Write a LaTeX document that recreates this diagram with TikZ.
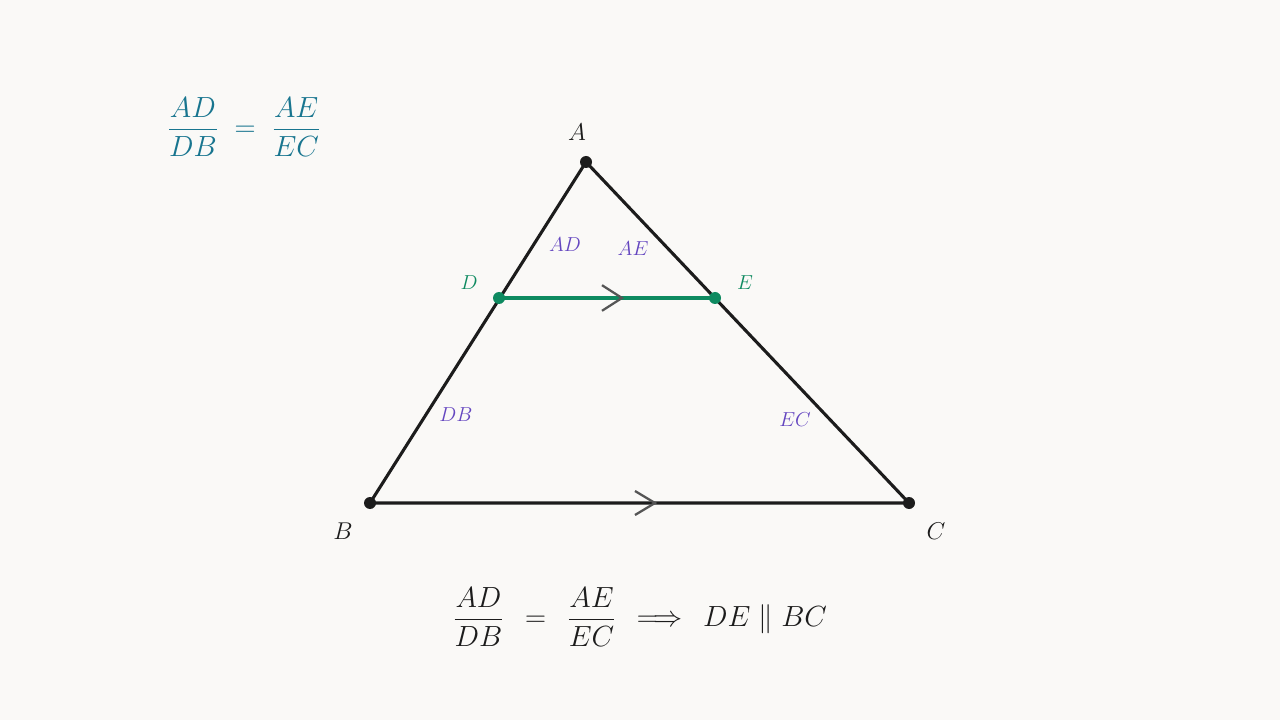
\documentclass[tikz,border=0pt]{standalone}
\usepackage{amsmath}
\definecolor{bgcol}{HTML}{FAF9F7}
\definecolor{teal}{HTML}{18758F}
\definecolor{grn}{HTML}{0E8A60}
\definecolor{purp}{HTML}{6446C0}
\definecolor{ink}{HTML}{1C1C1C}
\definecolor{chev}{HTML}{555555}
\tikzset{
  side/.style={ink, line width=2.2pt},
  vdot/.style={circle, fill=ink, inner sep=0pt, minimum size=0.3cm},
  gdot/.style={circle, fill=grn, inner sep=0pt, minimum size=0.3cm},
  seglab/.style={purp, font=\fontsize{14}{16}\selectfont},
  chevron/.style={chev, line width=1.6pt}
}
\begin{document}
\begin{tikzpicture}
    \fill[bgcol] (0,0) rectangle (32,18);
    \useasboundingbox (0,0) rectangle (32,18);

      \coordinate (A) at (14.65,13.95);
      \coordinate (B) at (9.25,5.425);
      \coordinate (C) at (22.725,5.425);
      \coordinate (D) at (12.475,10.55);
      \coordinate (E) at (17.875,10.55);

      \draw[side, line join=round] (A)--(B)--(C)--cycle;
      \draw[grn, line width=2.2pt] (D)--(E);

      \coordinate (m1) at (15.55,10.55);
      \draw[chevron] ([xshift=-0.5cm,yshift=0.32cm]m1)--(m1)--([xshift=-0.5cm,yshift=-0.32cm]m1);
      \coordinate (m2) at (16.375,5.425);
      \draw[chevron] ([xshift=-0.5cm,yshift=0.3cm]m2)--(m2)--([xshift=-0.5cm,yshift=-0.3cm]m2);

      \node[vdot] (a) at (A) {};
      \node[vdot] (b) at (B) {};
      \node[vdot] (c) at (C) {};
      \node[gdot] (d) at (D) {};
      \node[gdot] (e) at (E) {};

      \draw (14.425,14.7)node[ink, font=\fontsize{17}{20}\selectfont](la){$A$};
      \draw (8.575,4.725)node[ink, font=\fontsize{17}{20}\selectfont](lb){$B$};
      \draw (23.4,4.725)node[ink, font=\fontsize{17}{20}\selectfont](lc){$C$};
      \draw (11.725,10.925)node[grn, font=\fontsize{15}{18}\selectfont](ld){$D$};
      \draw (18.625,10.925)node[grn, font=\fontsize{15}{18}\selectfont](le){$E$};

      \draw (14.125,11.875)node[seglab](sad){$AD$};
      \draw (15.825,11.775)node[seglab](sae){$AE$};
      \draw (11.4,7.625)node[seglab](sdb){$DB$};
      \draw (19.875,7.5)node[seglab](sec){$EC$};

      \draw (6.1,14.825)node[teal, font=\fontsize{20}{24}\selectfont](top){$\dfrac{AD}{DB}\;=\;\dfrac{AE}{EC}$};
      \draw (16,2.575)node[ink, font=\fontsize{20}{24}\selectfont](bot){$\dfrac{AD}{DB}\;\,=\;\,\dfrac{AE}{EC}\;\,\Longrightarrow\;\,DE \parallel BC$};
  \end{tikzpicture}
\end{document}
